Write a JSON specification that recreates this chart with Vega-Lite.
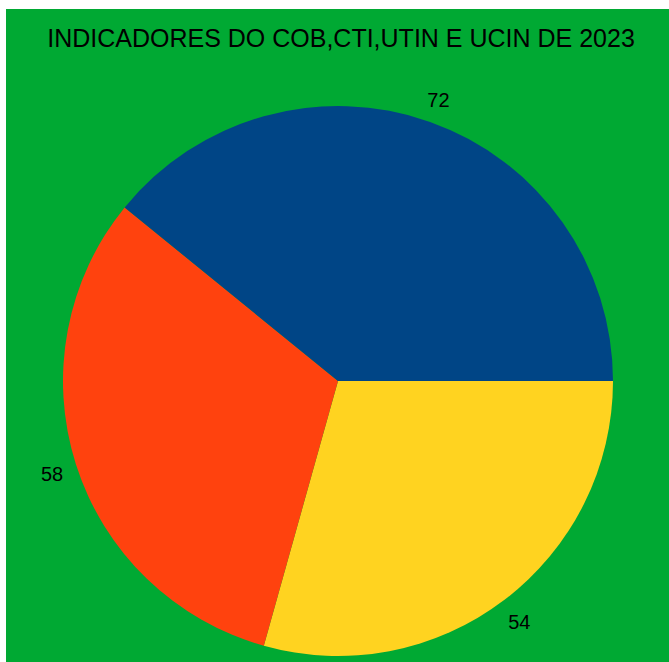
{
  "$schema": "https://vega.github.io/schema/vega-lite/v6.json",
  "background": "#ffffff",
  "padding": {"left": 6, "top": 9, "right": 0, "bottom": 0},
  "spacing": 0,
  "bounds": "flush",
  "config": {
    "view": {"fill": "#00a933", "stroke": null},
    "font": "Liberation Sans"
  },
  "datasets": {
    "titulo": [{"texto": "INDICADORES DO COB,CTI,UTIN E UCIN DE 2023"}],
    "valores": [
      {"item": "A", "valor": 54},
      {"item": "B", "valor": 58},
      {"item": "C", "valor": 72}
    ]
  },
  "vconcat": [
    {
      "width": 664,
      "height": 91,
      "view": {"fill": "#00a933", "stroke": null},
      "data": {"name": "titulo"},
      "mark": {"type": "text", "font": "Liberation Sans", "fontSize": 25, "color": "#000000", "baseline": "alphabetic", "align": "center", "dx": 3, "dy": -7.5},
      "encoding": {"text": {"field": "texto", "type": "nominal"}}
    },
    {
      "width": 664,
      "height": 562,
      "view": {"fill": "#00a933", "stroke": null},
      "data": {"name": "valores"},
      "encoding": {
        "theta": {"field": "valor", "type": "quantitative", "stack": true, "scale": {"range": [1.5707963, 7.8539816]}},
        "color": {"field": "item", "type": "nominal", "legend": null, "scale": {"domain": ["A", "B", "C"], "range": ["#ffd320", "#ff420e", "#004586"]}}
      },
      "layer": [
        {"mark": {"type": "arc", "outerRadius": 275}},
        {"mark": {"type": "text", "radius": 300, "fontSize": 20, "font": "Liberation Sans", "baseline": "middle", "align": "center", "dy": 3},
         "encoding": {"text": {"field": "valor", "type": "quantitative"}, "color": {"value": "#000000"}, "detail": {"field": "item"}}}
      ]
    }
  ]
}
